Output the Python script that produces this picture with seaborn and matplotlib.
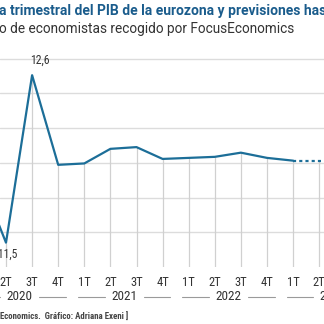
import matplotlib
matplotlib.use("Agg")
import matplotlib.pyplot as plt
import matplotlib.transforms as mtransforms
from matplotlib import font_manager
import numpy as np
import pandas as pd
import seaborn as sns

# Quarterly GDP change of the euro area (%), observed and forecast
quarters = ["1T", "2T", "3T", "4T"] * 4
years = [2020, 2021, 2022, 2023]
observed = [-2.0, -11.5, 12.6, -0.3, -0.1, 2.0, 2.25, 0.55, 0.7, 0.85, 1.45, 0.7, 0.3]
forecast = [0.3, 0.3, 0.3, 0.3]
forecast_start = 12
labelled = {1: "-11,5", 2: "12,6"}

LINE = "#1c6e98"
GRID = "#dcdcdc"
TEXT = "#333333"

# pick a condensed face for the small annotations
names = {f.name for f in font_manager.fontManager.ttflist}
cond = [n for n in ["Roboto Condensed", "Liberation Sans Narrow", "Open Sans Condensed"] if n in names]
NARROW = cond + ["DejaVu Sans"]
NARROW_KW = dict(family=NARROW, fontstretch="condensed")

sns.set_theme(style="white")
plt.rcParams["font.family"] = ["Roboto", "DejaVu Sans"]

W = H = 324
DPI = 100
fig = plt.figure(figsize=(W / DPI, H / DPI), dpi=DPI)
fig.patch.set_facecolor("white")

bottom_px = 267
px_per_unit = 6.95
ax = fig.add_axes([0, (H - bottom_px) / H, 1, bottom_px / H])
ax.set_facecolor("white")
ymin = -15
px_per_q = 26.1
x0 = 1 - 6 / px_per_q

obs_df = pd.DataFrame({"q": np.arange(len(observed)), "v": observed})
fc_df = pd.DataFrame({"q": np.arange(forecast_start, forecast_start + len(forecast)),
                      "v": forecast})

# horizontal grid
for g in [-10, -5, 0, 5, 10, 15]:
    ax.axhline(g, color=GRID, lw=1.0, zorder=1)

# drop lines from each point to the base
all_q = list(obs_df["q"]) + list(fc_df["q"][1:])
all_v = list(obs_df["v"]) + list(fc_df["v"][1:])
ax.vlines(all_q, ymin, all_v, color="#d0d0d0", lw=0.9, zorder=1)

sns.lineplot(data=obs_df, x="q", y="v", ax=ax, color=LINE, lw=1.6,
             zorder=3, legend=False)
sns.lineplot(data=fc_df, x="q", y="v", ax=ax, color=LINE, lw=1.6,
             zorder=3, legend=False, linestyle=(0, (1.4, 1.4)))

# quarter ticks
n = len(quarters)
ax.set_xticks(np.arange(n))
ax.set_xticklabels(quarters, fontsize=9, color=TEXT, **NARROW_KW)
ax.tick_params(axis="x", length=0, pad=6.5)
ax.set_yticks([])
ax.set_xlabel("")
ax.set_ylabel("")
for s in ax.spines.values():
    s.set_visible(False)

ax.set_ylim(ymin, ymin + bottom_px / px_per_unit)
ax.set_xlim(x0, x0 + W / px_per_q)

# value labels
ax.annotate(labelled[2], (2, observed[2]), xytext=(-1.5, 6), textcoords="offset points",
            ha="left", va="bottom", fontsize=8.5, color=TEXT, **NARROW_KW)
ax.annotate(labelled[1], (1, observed[1]), xytext=(0.5, -4), textcoords="offset points",
            ha="center", va="top", fontsize=8.5, color=TEXT, **NARROW_KW)

# year brackets
trans = mtransforms.blended_transform_factory(ax.transData, fig.transFigure)
ybr = 1 - 297 / H
for k, yr in enumerate(years):
    a, b = 4 * k - 0.25, 4 * k + 3 + 0.3
    mid = (a + b) / 2
    ax.plot([a, mid - 0.75], [ybr, ybr], color="#9a9a9a", lw=0.8, transform=trans, clip_on=False)
    ax.plot([mid + 0.75, b], [ybr, ybr], color="#9a9a9a", lw=0.8, transform=trans, clip_on=False)
    ax.text(mid, ybr, str(yr), transform=trans, ha="center", va="center",
            fontsize=9.5, color=TEXT, **NARROW_KW)

# heading
fig.text(-0.003, 1 - 11 / H, "a trimestral del PIB de la eurozona y previsiones hasta 2023",
         ha="left", va="center", fontsize=10.0, fontweight="bold", color="#1a5c8c")
fig.text(-0.003, 1 - 29 / H, "o de economistas recogido por FocusEconomics",
         ha="left", va="center", fontsize=9.8, color=TEXT)
fig.text(0, 1 - 317 / H, "Economics.  Gráfico: Adriana Exeni ]",
         ha="left", va="center", fontsize=6.4, color="#444444", fontweight="bold",
         **NARROW_KW)

fig.savefig("out.png", dpi=DPI, facecolor="white")
